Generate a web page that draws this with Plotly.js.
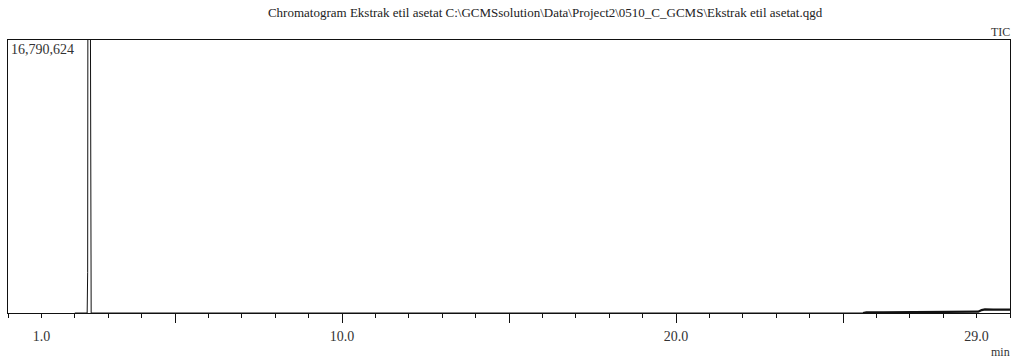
<!DOCTYPE html>
<html>
<head>
<meta charset="utf-8">
<script src="https://cdn.plot.ly/plotly-3.0.1.min.js"></script>
<style>html,body{margin:0;padding:0;background:#fff;}#chart{width:1015px;height:360px;}</style>
</head>
<body>
<div id="chart"></div>
<script>
// Retention time (min) and TIC intensity for the main part of the run
var retentionTime = [2.00, 2.37, 2.385, 2.395, 2.40, 2.44, 2.465, 2.475, 2.49, 25.60];
var ticIntensity  = [0, 0, 2500000, 20000000, 40000000, 40000000, 15000000, 1500000, 0, 0];
// Late-run baseline drift / noise
var tailTime      = [25.60, 25.70, 26.20, 26.80, 27.40, 28.00, 28.60, 29.05, 29.15, 29.25, 29.50, 30.00];
var tailIntensity = [0, 40000, 45000, 50000, 55000, 60000, 65000, 80000, 180000, 220000, 210000, 210000];
// Axis annotations
var yMaxLabel = "16,790,624";
var yMax = 16790624;
var xRange = [0, 30];
var xLabelVals = [1, 10, 20, 29];
var xLabelText = ["1.0", "10.0", "20.0", "29.0"];
var xLongTickVals = [5, 10, 15, 20, 25];
var titleText = "Chromatogram Ekstrak etil asetat C:\\GCMSsolution\\Data\\Project2\\0510_C_GCMS\\Ekstrak etil asetat.qgd";

var serif = "Liberation Serif, Times New Roman, serif";

var data = [
  {x: retentionTime, y: ticIntensity, type: "scatter", mode: "lines",
   line: {color: "#111", width: 1}, hoverinfo: "skip", xaxis: "x", yaxis: "y"},
  {x: tailTime, y: tailIntensity, type: "scatter", mode: "lines",
   line: {color: "#111", width: 2.2}, hoverinfo: "skip", xaxis: "x", yaxis: "y"},
  {x: xRange, y: [null, null], type: "scatter", mode: "lines", xaxis: "x2", yaxis: "y",
   hoverinfo: "skip", showlegend: false}
];

var layout = {
  width: 1015, height: 360,
  margin: {l: 8, r: 5, t: 40, b: 47},
  paper_bgcolor: "#fff", plot_bgcolor: "#fff",
  showlegend: false,
  title: {text: titleText, font: {family: serif, size: 13, color: "#222"},
          x: 0.537, xanchor: "center", y: 0.965, yanchor: "middle"},
  xaxis: {
    range: xRange, showgrid: false, zeroline: false,
    showline: true, linecolor: "#111", linewidth: 1, mirror: true,
    tickvals: xLabelVals, ticktext: xLabelText,
    ticks: "outside", ticklen: 4, tickwidth: 1, tickcolor: "#111",
    ticklabelstandoff: 6,
    minor: {dtick: 1, tick0: 0, ticks: "outside", ticklen: 4, tickwidth: 1, tickcolor: "#111", showgrid: false},
    tickfont: {family: serif, size: 14, color: "#333"}
  },
  xaxis2: {
    overlaying: "x", side: "bottom", anchor: "y", range: xRange,
    showgrid: false, zeroline: false, showline: false,
    tickvals: xLongTickVals, ticktext: ["", "", "", "", ""], showticklabels: false,
    ticks: "outside", ticklen: 9, tickwidth: 1, tickcolor: "#111"
  },
  yaxis: {
    range: [0, yMax], showgrid: false, zeroline: false,
    showline: true, linecolor: "#111", linewidth: 1, mirror: true,
    showticklabels: false, ticks: ""
  },
  annotations: [
    {text: yMaxLabel, xref: "paper", yref: "paper", x: 0, y: 1, xanchor: "left", yanchor: "top",
     xshift: 1, yshift: 0, showarrow: false, font: {family: serif, size: 14, color: "#333"}},
    {text: "TIC", xref: "paper", yref: "paper", x: 1, y: 1, xanchor: "right", yanchor: "bottom",
     xshift: 2, yshift: -1, showarrow: false, font: {family: serif, size: 12, color: "#333"}},
    {text: "min", xref: "paper", yref: "paper", x: 1, y: 0, xanchor: "right", yanchor: "top",
     xshift: 2, yshift: -30, showarrow: false, font: {family: serif, size: 12, color: "#333"}}
  ]
};

Plotly.newPlot("chart", data, layout, {displayModeBar: false, staticPlot: true});
</script>
</body>
</html>
